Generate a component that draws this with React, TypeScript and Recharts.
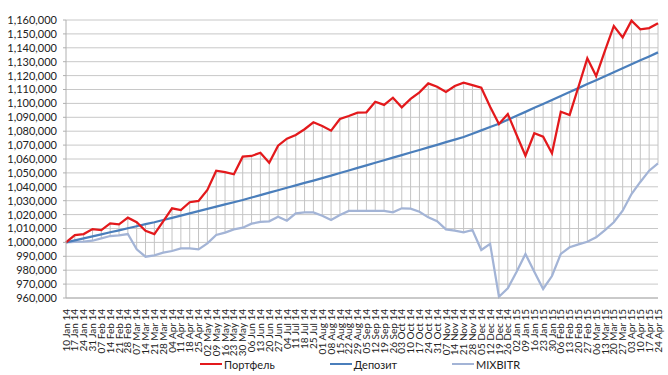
import { LineChart, Line, XAxis, YAxis, CartesianGrid, Legend, ErrorBar } from 'recharts';

const categories = [
  '10 Jan 14', '17 Jan 14', '24 Jan 14', '31 Jan 14', '07 Feb 14', '14 Feb 14', '21 Feb 14', '28 Feb 14',
  '07 Mar 14', '14 Mar 14', '21 Mar 14', '28 Mar 14', '04 Apr 14', '11 Apr 14', '18 Apr 14', '25 Apr 14',
  '02 May 14', '09 May 14', '16 May 14', '23 May 14', '30 May 14', '06 Jun 14', '13 Jun 14', '20 Jun 14',
  '27 Jun 14', '04 Jul 14', '11 Jul 14', '18 Jul 14', '25 Jul 14', '01 Aug 14', '08 Aug 14', '15 Aug 14',
  '22 Aug 14', '29 Aug 14', '05 Sep 14', '12 Sep 14', '19 Sep 14', '26 Sep 14', '03 Oct 14', '10 Oct 14',
  '17 Oct 14', '24 Oct 14', '31 Oct 14', '07 Nov 14', '14 Nov 14', '21 Nov 14', '28 Nov 14', '05 Dec 14',
  '12 Dec 14', '19 Dec 14', '26 Dec 14', '02 Jan 15', '09 Jan 15', '16 Jan 15', '23 Jan 15', '30 Jan 15',
  '06 Feb 15', '13 Feb 15', '20 Feb 15', '27 Feb 15', '06 Mar 15', '13 Mar 15', '20 Mar 15', '27 Mar 15',
  '03 Apr 15', '10 Apr 15', '17 Apr 15', '24 Apr 15',
];

const portfolio = [
  1000000, 1005300, 1006000, 1009600, 1008900, 1013700, 1013000, 1017800,
  1014500, 1008400, 1006000, 1015200, 1024500, 1023300, 1028900, 1029800,
  1037700, 1051600, 1050500, 1049000, 1061700, 1062200, 1064500, 1057300,
  1069600, 1074600, 1077300, 1081400, 1086400, 1083700, 1080400, 1088800,
  1090900, 1093300, 1093600, 1101200, 1098900, 1104100, 1097200, 1103200,
  1108000, 1114400, 1112000, 1108200, 1112500, 1114900, 1113200, 1111300,
  1097600, 1085200, 1092400, 1077300, 1062400, 1078500, 1076100, 1064100,
  1094000, 1091700, 1112000, 1132400, 1119700, 1138000, 1155700, 1147500,
  1159500, 1153300, 1154200, 1157600,
];

const deposit = [
  1000000, 1001500, 1002900, 1004400, 1005800, 1007300, 1008700, 1010200,
  1011600, 1013100, 1014500, 1016100, 1017700, 1019300, 1020900, 1022500,
  1024100, 1025700, 1027300, 1028900, 1030500, 1032300, 1034000, 1035800,
  1037500, 1039300, 1041000, 1042800, 1044500, 1046300, 1048000, 1049900,
  1051700, 1053600, 1055400, 1057300, 1059100, 1061000, 1062800, 1064700,
  1066500, 1068400, 1070200, 1072100, 1073900, 1075800, 1078200, 1080600,
  1083000, 1085400, 1088200, 1091100, 1093900, 1096800, 1099600, 1102500,
  1105300, 1108200, 1111000, 1113900, 1116700, 1119600, 1122400, 1125300,
  1128100, 1131000, 1133800, 1136700,
];

const mixbitr = [
  1000000, 1000300, 1000600, 1001200, 1002900, 1004600, 1005100, 1006000,
  995000, 989700, 990700, 992600, 993800, 995700, 995700, 995000,
  999300, 1005300, 1007000, 1009400, 1010600, 1013500, 1014700, 1015200,
  1018500, 1015600, 1020900, 1021600, 1021600, 1019200, 1016100, 1019700,
  1022600, 1022600, 1022600, 1022600, 1022600, 1021600, 1024500, 1024300,
  1022100, 1018000, 1015200, 1009400, 1008400, 1007200, 1008900, 994500,
  998900, 960900, 966900, 978900, 991700, 978900, 966500, 975800,
  991700, 996500, 998600, 1000500, 1003700, 1008900, 1014500, 1022800,
  1034800, 1043500, 1051600, 1056900,
];

const yTicks = [
  960000, 970000, 980000, 990000, 1000000, 1010000, 1020000, 1030000, 1040000, 1050000, 1060000,
  1070000, 1080000, 1090000, 1100000, 1110000, 1120000, 1130000, 1140000, 1150000, 1160000,
];

const legendOrder = ['Портфель', 'Депозит', 'MIXBITR'];

const data = categories.map((date, i) => {
  const hi = Math.max(portfolio[i], deposit[i], mixbitr[i]);
  const lo = Math.min(portfolio[i], deposit[i], mixbitr[i]);
  return {
    date,
    portfolio: portfolio[i],
    deposit: deposit[i],
    mixbitr: mixbitr[i],
    low: lo,
    span: [0, hi - lo],
  };
});

const font = 'Lato, "Open Sans", sans-serif';

const DateTick = (props: any) => {
  const { x, y, payload } = props;
  return (
    <g transform={`translate(${x},${y + 3})`}>
      <text
        transform="rotate(-90)"
        textAnchor="end"
        dy="0.36em"
        fontSize={10}
        fontFamily={font}
        fill="#222"
      >
        {payload.value}
      </text>
    </g>
  );
};

const LegendContent = (props: any) => {
  const items = (props.payload || [])
    .filter((p: any) => legendOrder.includes(p.value))
    .sort((a: any, b: any) => legendOrder.indexOf(a.value) - legendOrder.indexOf(b.value));
  return (
    <div style={{ display: 'flex', gap: 55, height: 20, alignItems: 'center', fontFamily: font, fontSize: 11, color: '#222' }}>
      {items.map((it: any) => (
        <div key={it.value} style={{ display: 'flex', alignItems: 'center' }}>
          <div style={{ width: 22, height: 2.5, background: it.color, marginRight: 2 }} />
          <span>{it.value}</span>
        </div>
      ))}
    </div>
  );
};

export default function App() {
  return (
    <div style={{ position: 'absolute', left: 0, top: 0, background: '#fff' }}>
      <LineChart width={668} height={375} data={data} margin={{ top: 20, right: 10, bottom: 1, left: 6 }}>
        <CartesianGrid vertical={false} stroke="#c8c8c8" />
        <XAxis
          dataKey="date"
          interval={0}
          height={56}
          tick={<DateTick />}
          tickLine={false}
          axisLine={{ stroke: '#b0b0b0' }}
          padding={{ left: 0, right: 0 }}
        />
        <YAxis
          domain={[960000, 1160000]}
          ticks={yTicks}
          interval={0}
          width={60}
          tickSize={3}
          tickMargin={6}
          tickLine={{ stroke: '#b0b0b0' }}
          axisLine={{ stroke: '#b0b0b0' }}
          tickFormatter={(v: number) => v.toLocaleString('en-US')}
          tick={{ fontSize: 11, fontFamily: font, fill: '#222' }}
        />
        <Line
          dataKey="low"
          stroke="none"
          dot={false}
          activeDot={false}
          legendType="none"
          isAnimationActive={false}
        >
          <ErrorBar dataKey="span" direction="y" width={0} stroke="#c4c4c4" strokeWidth={1} isAnimationActive={false} />
        </Line>
        <Line dataKey="mixbitr" name="MIXBITR" stroke="#a3b4d6" strokeWidth={2.25} dot={false} isAnimationActive={false} />
        <Line dataKey="deposit" name="Депозит" stroke="#4a7ebb" strokeWidth={2.25} dot={false} isAnimationActive={false} />
        <Line dataKey="portfolio" name="Портфель" stroke="#e3191c" strokeWidth={2.25} dot={false} isAnimationActive={false} />
        <Legend
          verticalAlign="bottom"
          content={<LegendContent />}
          wrapperStyle={{ left: 200, top: 354, bottom: 'auto', width: 'auto' }}
        />
      </LineChart>
    </div>
  );
}
